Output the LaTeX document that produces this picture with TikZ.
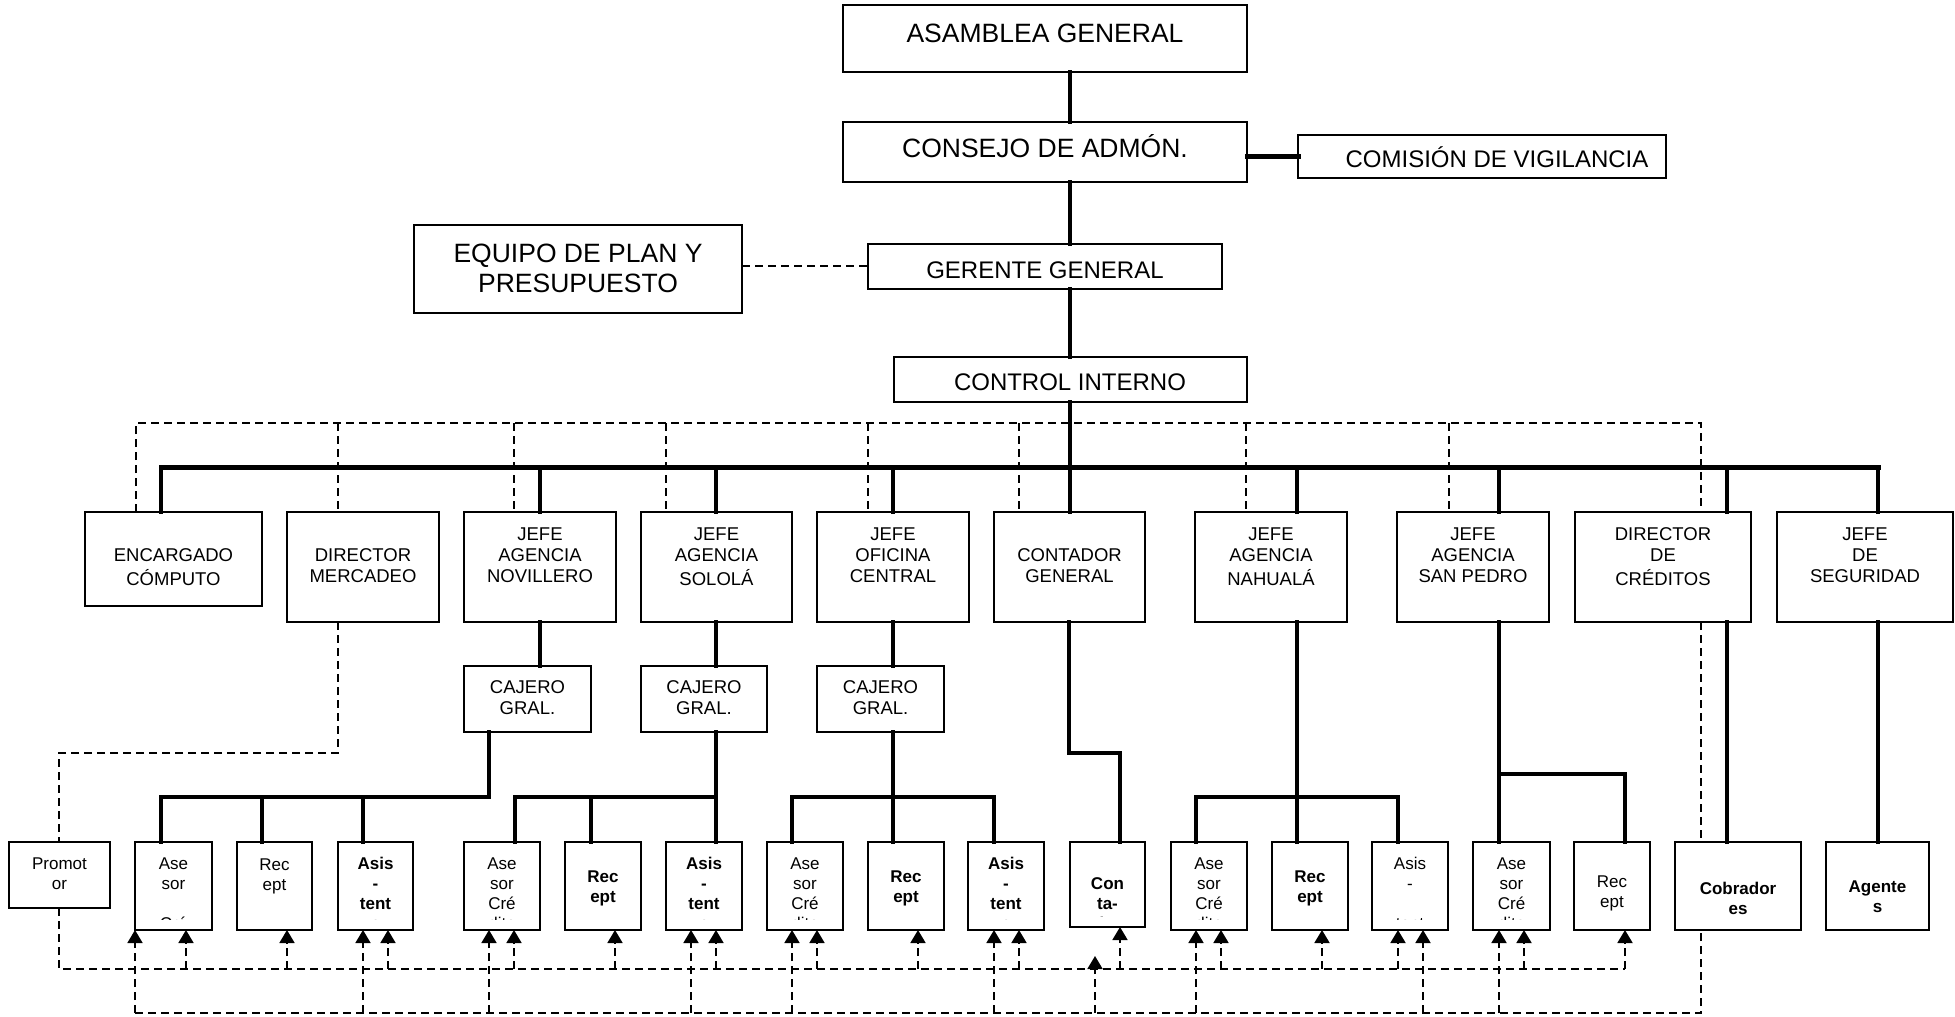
\documentclass[tikz,border=0pt]{standalone}
\usepackage{fontspec}
\setmainfont{Liberation Sans}
\usetikzlibrary{arrows.meta}
\newcommand\mkbox[6][]{\node[bx,#1,minimum width={(#5-#3)*1pt},minimum height={(#6-#4)*1pt}] (#2) at ({(#3+#5)/2},{(#4+#6)/2}) {};}
\newcommand\sbt[5]{\begin{scope}\clip ([xshift=1pt,yshift=-1pt]#2.north west) rectangle ([xshift=-1pt,yshift=11pt]#2.south east);
  \node[#4, anchor=north] (#1) at ([yshift=-#3pt]#2.north) {#5};\end{scope}}
\tikzset{
  bx/.style={draw, line width=2pt, inner sep=0pt, outer sep=0pt},
  st/.style={font=\fontsize{17}{20}\selectfont, align=center, inner sep=0pt},
  stb/.style={st, font=\fontsize{17}{20}\selectfont\bfseries},
  mt/.style={font=\fontsize{18.5}{21}\selectfont, align=center, inner sep=0pt},
  big/.style={font=\fontsize{26.5}{29.5}\selectfont, inner sep=0pt},
  med/.style={font=\fontsize{24}{28}\selectfont, inner sep=0pt},
  conn/.style={line width=3.5pt, line cap=rect},
  busl/.style={line width=5pt, line cap=rect},
  dl/.style={line width=1.8pt, dash pattern=on 8pt off 5pt},
  arr/.style={-{Triangle[width=15pt,length=13pt]}}
}
\begin{document}
\begin{tikzpicture}[x=1pt,y=-1pt]
\useasboundingbox (0,0) rectangle (1955,1017);
\fill[white] (0,0) rectangle (1955,1017);
\coordinate (spine) at (1070,0);
% ---------- top boxes
\mkbox{asam}{843}{5}{1247}{72}
\mkbox{consejo}{843}{122}{1247}{182}
\mkbox{comision}{1298}{135}{1666}{178}
\mkbox{equipo}{414}{225}{742}{313}
\mkbox{gerente}{868}{244}{1222}{289}
\mkbox{control}{894}{357}{1247}{402}
\node[big, anchor=base] (asamT) at (1045,42) {ASAMBLEA GENERAL};
\node[big, anchor=base] (consT) at (1045,157) {CONSEJO DE ADMÓN.};
\node[med, anchor=base] (comT) at (1497,167) {COMISIÓN DE VIGILANCIA};
\node[big, align=center, anchor=north] (equT) at (578,241.85) {\strut EQUIPO DE PLAN Y\\\strut PRESUPUESTO};
\node[med, anchor=base] (gerT) at (1045,278.5) {GERENTE GENERAL};
\node[med, anchor=base] (ctlT) at (1070,390) {CONTROL INTERNO};
% ---------- level 2
\mkbox{enc}{85}{512}{262}{606}
\mkbox{dmer}{287}{512}{439}{622}
\mkbox{nov}{464}{512}{616}{622}
\mkbox{sol}{641}{512}{792}{622}
\mkbox{cen}{817}{512}{969}{622}
\mkbox{cont}{994}{512}{1145}{622}
\mkbox{nah}{1195}{512}{1347}{622}
\mkbox{sanp}{1397}{512}{1549}{622}
\mkbox{cred}{1575}{512}{1751}{622}
\mkbox{seg}{1777}{512}{1953}{622}
\node[mt, anchor=north] (encT) at ([yshift=-35pt]enc.north) {\strut ENCARGADO\\\strut CÓMPUTO};
\node[mt, anchor=north] (dmerT) at ([yshift=-35pt]dmer.north) {\strut DIRECTOR\\\strut MERCADEO};
\node[mt, anchor=north] (novT) at ([yshift=-14pt]nov.north) {\strut JEFE\\\strut AGENCIA\\\strut NOVILLERO};
\node[mt, anchor=north] (solT) at ([yshift=-14pt]sol.north) {\strut JEFE\\\strut AGENCIA\\\strut SOLOLÁ};
\node[mt, anchor=north] (cenT) at ([yshift=-14pt]cen.north) {\strut JEFE\\\strut OFICINA\\\strut CENTRAL};
\node[mt, anchor=north] (contT) at ([yshift=-35pt]cont.north) {\strut CONTADOR\\\strut GENERAL};
\node[mt, anchor=north] (nahT) at ([yshift=-14pt]nah.north) {\strut JEFE\\\strut AGENCIA\\\strut NAHUALÁ};
\node[mt, anchor=north] (sanpT) at ([yshift=-14pt]sanp.north) {\strut JEFE\\\strut AGENCIA\\\strut SAN PEDRO};
\node[mt, anchor=north] (credT) at ([yshift=-14pt]cred.north) {\strut DIRECTOR\\\strut DE\\\strut CRÉDITOS};
\node[mt, anchor=north] (segT) at ([yshift=-14pt]seg.north) {\strut JEFE\\\strut DE\\\strut SEGURIDAD};
% ---------- cajeros
\mkbox{cajA}{464}{666}{591}{732}
\mkbox{cajB}{641}{666}{767}{732}
\mkbox{cajC}{817}{666}{944}{732}
\foreach \c in {cajA,cajB,cajC}
  \node[mt, anchor=north] (\c T) at ([yshift=-13pt]\c.north) {\strut CAJERO\\\strut GRAL.};
% ---------- small boxes
\mkbox{prom}{9}{842}{110}{908}
\mkbox{aseA}{135}{842}{212}{930}
\mkbox{recA}{237}{842}{312}{930}
\mkbox{asiA}{338}{842}{413}{930}
\mkbox{aseB}{464}{842}{540}{930}
\mkbox{recB}{565}{842}{641}{930}
\mkbox{asiB}{666}{842}{742}{930}
\mkbox{aseC}{767}{842}{843}{930}
\mkbox{recC}{868}{842}{944}{930}
\mkbox{asiC}{968}{842}{1044}{930}
\mkbox{conta}{1070}{842}{1145}{927}
\mkbox{aseD}{1171}{842}{1247}{930}
\mkbox{recD}{1272}{842}{1348}{930}
\mkbox{asiD}{1372}{842}{1448}{930}
\mkbox{aseE}{1473}{842}{1550}{930}
\mkbox{recE}{1574}{842}{1650}{930}
\mkbox{cob}{1675}{842}{1801}{930}
\mkbox{age}{1826}{842}{1929}{930}
\sbt{promT}{prom}{13}{st}{\strut Promot\\\strut or}
\sbt{aseAT}{aseA}{13}{st}{\strut Ase\\\strut sor\\\strut \\\strut Cré}
\sbt{recAT}{recA}{14}{st}{\strut Rec\\\strut ept}
\sbt{asiAT}{asiA}{13}{stb}{\strut Asis\\\strut -\\\strut tent\\\strut e}
\sbt{aseBT}{aseB}{13}{st}{\strut Ase\\\strut sor\\\strut Cré\\\strut dito}
\sbt{recBT}{recB}{26}{stb}{\strut Rec\\\strut ept}
\sbt{asiBT}{asiB}{13}{stb}{\strut Asis\\\strut -\\\strut tent\\\strut e}
\sbt{aseCT}{aseC}{13}{st}{\strut Ase\\\strut sor\\\strut Cré\\\strut dito}
\sbt{recCT}{recC}{26}{stb}{\strut Rec\\\strut ept}
\sbt{asiCT}{asiC}{13}{stb}{\strut Asis\\\strut -\\\strut tent\\\strut e}
\sbt{contaT}{conta}{33}{stb}{\strut Con\\\strut ta-\\\strut dor}
\sbt{aseDT}{aseD}{13}{st}{\strut Ase\\\strut sor\\\strut Cré\\\strut dito}
\sbt{recDT}{recD}{26}{stb}{\strut Rec\\\strut ept}
\sbt{asiDT}{asiD}{13}{st}{\strut Asis\\\strut -\\\strut \\\strut tent}
\sbt{aseET}{aseE}{13}{st}{\strut Ase\\\strut sor\\\strut Cré\\\strut dito}
\sbt{recET}{recE}{31}{st}{\strut Rec\\\strut ept}
\sbt{cobT}{cob}{38.7}{stb}{\strut Cobrador\\\strut es}
\sbt{ageT}{age}{36}{stb}{\strut Agente\\\strut s}
% ---------- solid connectors, top
\draw[conn] (asam.south -| spine) -- (consejo.north -| spine);
\draw[busl] (consejo.east |- comision.west) -- (comision.west);
\draw[conn] (consejo.south -| spine) -- (gerente.north -| spine);
\coordinate (eqy) at (0,266);
\draw[dl] (equipo.east |- eqy) -- (gerente.west |- eqy);
\draw[conn] (gerente.south -| spine) -- (control.north -| spine);
\draw[conn] (control.south -| spine) -- (cont.north -| spine);
% main bus
\coordinate (busL) at (161,467);
\coordinate (busR) at (1878,467);
\draw[busl] (busL) -- (busR);
\draw[conn] (busL) -- (enc.north -| busL);
\foreach \x/\b in {540/nov,716/sol,893/cen,1297/nah,1499/sanp,1727/cred,1878/seg}
  \draw[conn] (\x,467) -- (\b.north -| \x,0);
% jefe -> cajero
\draw[conn] (nov.south -| 540,0) -- (cajA.north -| 540,0);
\draw[conn] (sol.south -| 716,0) -- (cajB.north -| 716,0);
\draw[conn] (cen.south -| 893,0) -- (cajC.north -| 893,0);
% Novillero group
\draw[conn] (cajA.south -| 489,0) -- (489,797) -- (161,797) -- (aseA.north -| 161,0);
\draw[conn] (262,797) -- (recA.north -| 262,0);
\draw[conn] (363,797) -- (asiA.north -| 363,0);
% Solola group
\draw[conn] (cajB.south -| 716,0) -- (asiB.north -| 716,0);
\draw[conn] (716,797) -- (515,797) -- (aseB.north -| 515,0);
\draw[conn] (591,797) -- (recB.north -| 591,0);
% Central group
\draw[conn] (cajC.south -| 893,0) -- (recC.north -| 893,0);
\draw[conn] (aseC.north -| 792,0) -- (792,797) -- (994,797) -- (asiC.north -| 994,0);
% Contador
\draw[conn] (cont.south -| 1069,0) -- (1069,753) -- (1120,753) -- (conta.north -| 1120,0);
% Nahuala group
\draw[conn] (nah.south -| 1297,0) -- (recD.north -| 1297,0);
\draw[conn] (aseD.north -| 1196,0) -- (1196,797) -- (1398,797) -- (asiD.north -| 1398,0);
% San Pedro group
\draw[conn] (sanp.south -| 1499,0) -- (aseE.north -| 1499,0);
\draw[conn] (1499,774) -- (1625,774) -- (recE.north -| 1625,0);
% Creditos, Seguridad
\draw[conn] (cred.south -| 1727,0) -- (cob.north -| 1727,0);
\draw[conn] (seg.south -| 1878,0) -- (age.north -| 1878,0);
% ---------- dashed top line
\draw[dl] (enc.north -| 136,0) -- (136,423) -- (1701,423) -- (cred.north -| 1701,0);
\foreach \x/\b in {338/dmer,514/nov,666/sol,868/cen,1019/cont,1246/nah,1449/sanp}
  \draw[dl] (\x,423) -- (\b.north -| \x,0);
% Director mercadeo -> Promotor
\draw[dl] (dmer.south -| 338,0) -- (338,753) -- (59,753) -- (prom.north -| 59,0);
% Creditos -> Cobradores
\draw[dl] (cred.south -| 1701,0) -- (cob.north -| 1701,0);
% ---------- lower dashed lines
\coordinate (l1a) at (59,969);
\coordinate (l1b) at (1625,969);
\coordinate (l2a) at (135,1013);
\coordinate (l2b) at (1701,1013);
\draw[dl] (prom.south -| l1a) -- (l1a) -- (l1b);
\draw[dl] (l2a) -- (l2b) -- (cob.south -| l2b);
\foreach \x/\b in {186/aseA,287/recA,388/asiA,514/aseB,615/recB,716/asiB,817/aseC,918/recC,1019/asiC,1120/conta,1221/aseD,1322/recD,1398/asiD,1524/aseE,1625/recE}
  \draw[dl,arr] (\x,969) -- (\b.south -| \x,0);
\foreach \x/\b in {135/aseA,363/asiA,489/aseB,691/asiB,792/aseC,994/asiC,1196/aseD,1423/asiD,1499/aseE}
  \draw[dl,arr] (\x,1013) -- (\b.south -| \x,0);
\coordinate (fa) at (1095,1013);
\coordinate (fb) at (1095,956);
\draw[dl,arr] (fa) -- (fb);
\end{tikzpicture}
\end{document}
